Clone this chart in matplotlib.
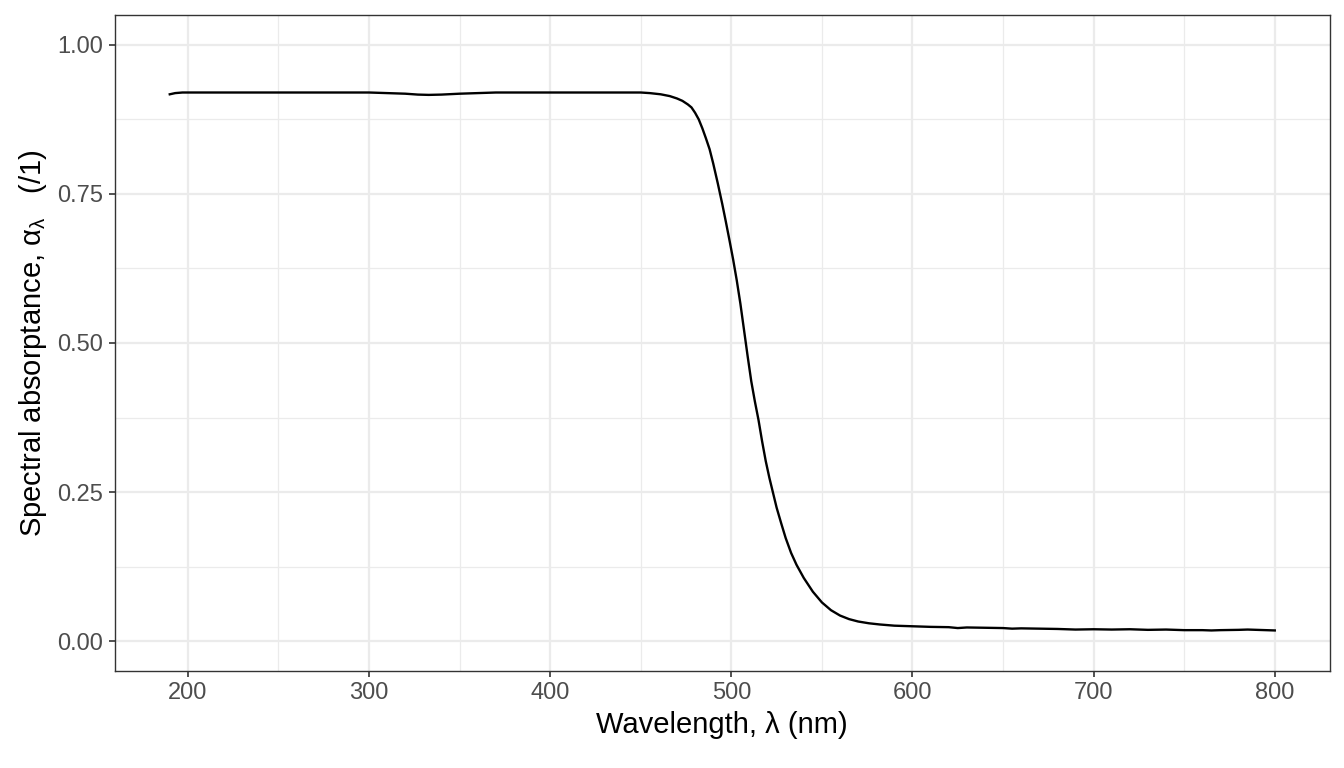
import matplotlib
matplotlib.use("Agg")
import matplotlib.pyplot as plt
from matplotlib.ticker import MultipleLocator

plt.rcParams["font.family"] = ["Liberation Sans", "DejaVu Sans"]
plt.rcParams["mathtext.fontset"] = "custom"
plt.rcParams["mathtext.rm"] = "Liberation Sans"
plt.rcParams["mathtext.it"] = "Liberation Sans"

# Spectrum
wavelength = [190, 193, 197, 200, 220, 250, 280, 300, 310, 320, 327, 333, 340,
              350, 360, 370, 400, 430, 450, 455, 461, 466, 470, 473, 476, 478,
              480, 482, 484, 486, 488, 490, 492.5, 495, 497, 499, 501, 503,
              505, 507, 509, 511, 513, 515, 517, 519, 521, 523, 525, 527.5,
              530, 533, 536, 540, 545, 550, 555, 560, 565, 570, 576, 582, 590,
              600, 610, 620, 625, 630, 640, 650, 655, 660, 670, 680, 690, 700,
              710, 720, 730, 740, 750, 760, 765, 770, 780, 785, 790, 800]
absorptance = [0.917, 0.919, 0.920, 0.920, 0.920, 0.920, 0.920, 0.920, 0.919,
               0.918, 0.9165, 0.916, 0.9165, 0.918, 0.919, 0.920, 0.920, 0.920,
               0.920, 0.919, 0.917, 0.914, 0.910, 0.906, 0.900, 0.895, 0.886,
               0.875, 0.860, 0.843, 0.825, 0.801, 0.768, 0.733, 0.703, 0.672,
               0.640, 0.605, 0.566, 0.522, 0.478, 0.436, 0.402, 0.371, 0.335,
               0.302, 0.274, 0.249, 0.224, 0.198, 0.173, 0.148, 0.128, 0.106,
               0.083, 0.065, 0.052, 0.043, 0.037, 0.033, 0.030, 0.028, 0.026,
               0.025, 0.024, 0.0235, 0.022, 0.023, 0.0225, 0.022, 0.021,
               0.0215, 0.021, 0.0205, 0.0195, 0.020, 0.0195, 0.020, 0.019,
               0.0195, 0.0185, 0.0185, 0.018, 0.0185, 0.019, 0.0195, 0.019,
               0.018]

x_ticks = [200, 300, 400, 500, 600, 700, 800]
y_ticks = [0.00, 0.25, 0.50, 0.75, 1.00]

fig = plt.figure(figsize=(13.44, 7.68), dpi=100)
ax = fig.add_axes([0.0852, 0.1263, 0.9044, 0.8542])

ax.plot(wavelength, absorptance, color="black", linewidth=1.7, zorder=3)

ax.set_xlim(159.5, 830.5)
ax.set_ylim(-0.05, 1.05)
ax.set_xticks(x_ticks)
ax.set_yticks(y_ticks)
ax.set_yticklabels([f"{v:.2f}" for v in y_ticks])
ax.xaxis.set_minor_locator(MultipleLocator(50))
ax.yaxis.set_minor_locator(MultipleLocator(0.125))

ax.grid(True, which="major", color="#EBEBEB", linewidth=1.6, zorder=0)
ax.grid(True, which="minor", color="#EBEBEB", linewidth=0.9, zorder=0)
ax.set_axisbelow(True)

for s in ax.spines.values():
    s.set_color("#333333")
    s.set_linewidth(1.0)

ax.tick_params(which="major", length=4, width=1.2, color="#333333",
               labelcolor="#4D4D4D", labelsize=17, pad=4)
ax.tick_params(which="minor", length=0)

ax.set_xlabel("Wavelength, λ (nm)", fontsize=21, color="black", labelpad=5)
ax.set_ylabel(r"Spectral absorptance, $\alpha_{\lambda}$   (/1)", fontsize=21,
              color="black", labelpad=6)

fig.savefig("out.png", dpi=100)
